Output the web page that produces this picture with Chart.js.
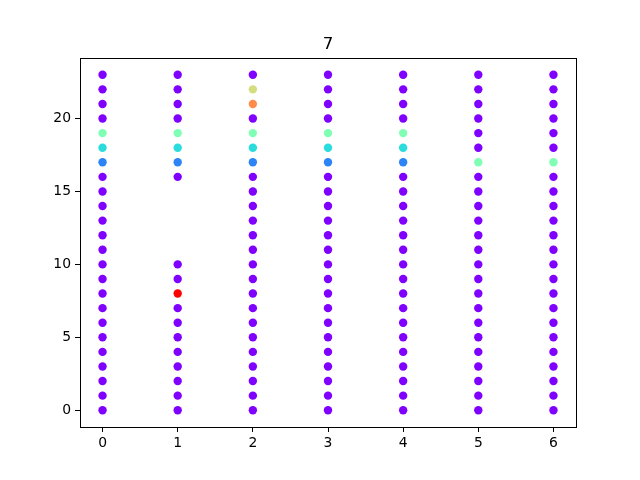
<!DOCTYPE html>
<html>
<head>
<meta charset="utf-8">
<script src="https://cdn.jsdelivr.net/npm/chart.js@4/dist/chart.umd.min.js"></script>
<style>
html,body{margin:0;padding:0;background:#fff;}
#wrap{width:640px;height:480px;position:relative;}
</style>
</head>
<body>
<div id="wrap"><canvas id="c" width="640" height="480"></canvas></div>
<script>
const title = "7";
const categories = [0, 1, 2, 3, 4, 5, 6];
const yLevels = [0,1,2,3,4,5,6,7,8,9,10,11,12,13,14,15,16,17,18,19,20,21,22,23];
const xTicks = [0, 1, 2, 3, 4, 5, 6];
const yTicks = [0, 5, 10, 15, 20];
// colour class per y level for each column (null = no point)
const col0 = [0,0,0,0,0,0,0,0,0,0,0,0,0,0,0,0,0,1,2,3,0,0,0,0];
const col1 = [0,0,0,0,0,0,0,0,6,0,0,null,null,null,null,null,0,1,2,3,0,0,0,0];
const col2 = [0,0,0,0,0,0,0,0,0,0,0,0,0,0,0,0,0,1,2,3,0,5,4,0];
const col3 = [0,0,0,0,0,0,0,0,0,0,0,0,0,0,0,0,0,1,2,3,0,0,0,0];
const col4 = [0,0,0,0,0,0,0,0,0,0,0,0,0,0,0,0,0,1,2,3,0,0,0,0];
const col5 = [0,0,0,0,0,0,0,0,0,0,0,0,0,0,0,0,0,3,0,0,0,0,0,0];
const col6 = [0,0,0,0,0,0,0,0,0,0,0,0,0,0,0,0,0,3,0,0,0,0,0,0];
const columns = [col0, col1, col2, col3, col4, col5, col6];
const palette = ["#8000ff", "#2c84f7", "#2adcdc", "#80ffb4", "#d4dd80", "#ff8c4a", "#ff0000"];

const pts = [], colors = [];
categories.forEach((x, i) => {
  columns[i].forEach((c, j) => {
    if (c === null) return;
    pts.push({x: x, y: yLevels[j]});
    colors.push(palette[c]);
  });
});

const frame = {
  id: 'frame',
  afterDraw(chart) {
    const {ctx, chartArea: a} = chart;
    ctx.save();
    ctx.strokeStyle = '#000';
    ctx.lineWidth = 1;
    ctx.strokeRect(Math.round(a.left) + 0.5, Math.round(a.top) + 0.5, Math.round(a.right - a.left), Math.round(a.bottom - a.top));
    ctx.fillStyle = '#000';
    ctx.font = '16.7px "DejaVu Sans"';
    ctx.textAlign = 'center';
    ctx.textBaseline = 'alphabetic';
    ctx.fillText(title, (a.left + a.right) / 2, 49);
    ctx.restore();
  }
};

new Chart(document.getElementById('c'), {
  type: 'scatter',
  data: {
    datasets: [{
      data: pts,
      pointBackgroundColor: colors,
      pointBorderWidth: 0,
      pointRadius: 4.2,
      pointHoverRadius: 4.2
    }]
  },
  options: {
    responsive: false,
    animation: false,
    layout: {padding: {top: 58, right: 64, left: 0, bottom: 0}},
    plugins: {legend: {display: false}, tooltip: {enabled: false}, title: {display: false}},
    scales: {
      x: {
        type: 'linear', min: -0.3, max: 6.3,
        afterBuildTicks: s => { s.ticks = xTicks.map(v => ({value: v})); },
        afterFit: s => { s.height = 53; },
        grid: {drawOnChartArea: false, drawTicks: true, tickLength: 5, tickColor: '#000', tickWidth: 1},
        border: {display: false},
        ticks: {color: '#000', font: {family: 'DejaVu Sans', size: 13.9}, padding: 3, maxRotation: 0}
      },
      y: {
        type: 'linear', min: -1.15, max: 24.15,
        afterBuildTicks: s => { s.ticks = yTicks.map(v => ({value: v})); },
        afterFit: s => { s.width = 80; },
        grid: {drawOnChartArea: false, drawTicks: true, tickLength: 5, tickColor: '#000', tickWidth: 1},
        border: {display: false},
        ticks: {color: '#000', font: {family: 'DejaVu Sans', size: 13.9}, padding: 4}
      }
    }
  },
  plugins: [frame]
});
</script>
</body>
</html>
